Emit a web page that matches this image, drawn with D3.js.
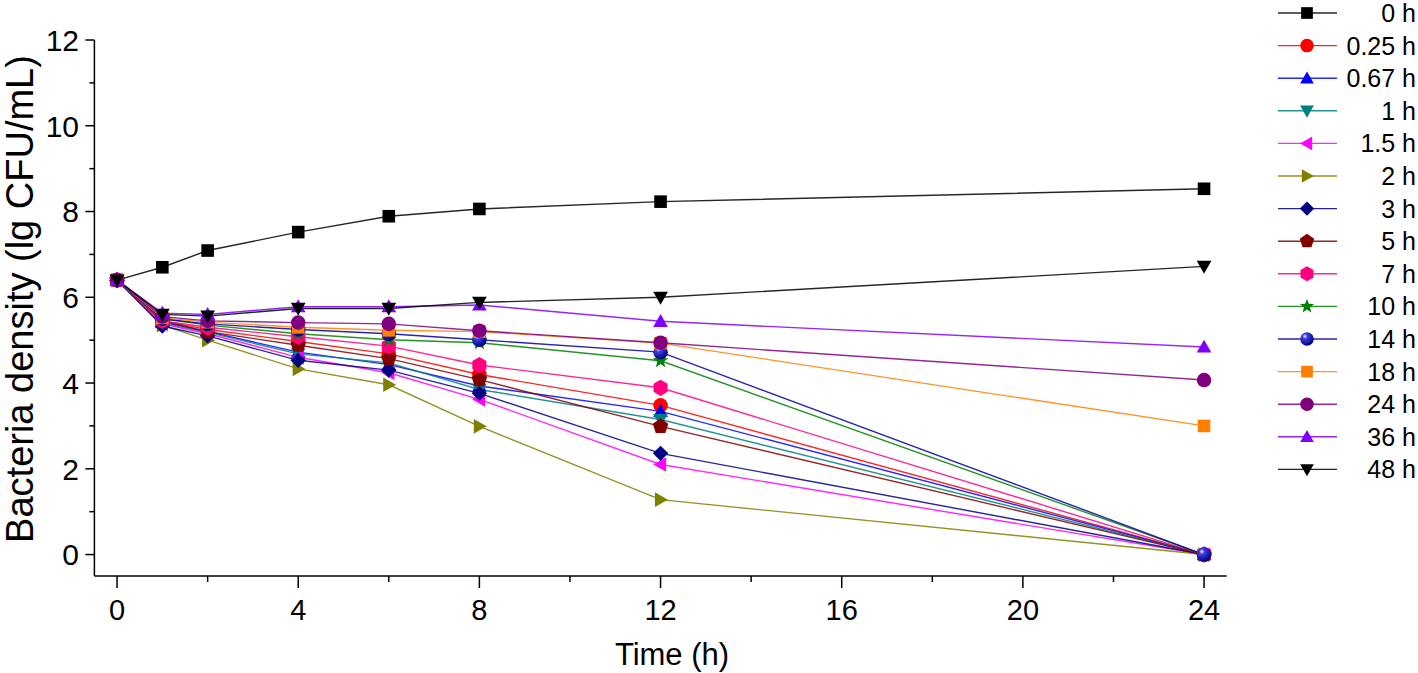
<!DOCTYPE html>
<html><head><meta charset="utf-8">
<script src="https://cdn.jsdelivr.net/npm/d3@7"></script>
<style>body{margin:0;background:#fff;} svg{display:block;} text{font-family:"Liberation Sans",Arial,sans-serif;}</style>
</head><body><svg id="c" width="1418" height="673"></svg>
<script>
const times = [0, 1, 2, 4, 6, 8, 12, 24];
const seriesNames = ["0 h","0.25 h","0.67 h","1 h","1.5 h","2 h","3 h","5 h","7 h","10 h","14 h","18 h","24 h","36 h","48 h"];
const seriesColors = ["#000000","#FF0000","#0000FF","#008080","#FF00FF","#808000","#000080","#800000","#FF0080","#008000","#0000A0","#FF8000","#800080","#8000FF","#000000"];
const seriesShapes = ["square","circle","triangleUp","triangleDown","triangleLeft","triangleRight","diamond","pentagon","hexagon","star","ball","square","circle","triangleUp","triangleDown"];
const v0h   = [6.40, 6.70, 7.09, 7.52, 7.89, 8.06, 8.23, 8.53];
const v025h = [6.40, 5.45, 5.25, 4.97, 4.68, 4.20, 3.48, 0];
const v067h = [6.40, 5.42, 5.20, 4.72, 4.43, 3.93, 3.34, 0];
const v1h   = [6.40, 5.40, 5.18, 4.68, 4.47, 3.85, 3.15, 0];
const v15h  = [6.40, 5.38, 5.15, 4.60, 4.24, 3.62, 2.10, 0];
const v2h   = [6.40, 5.35, 5.00, 4.33, 3.96, 2.99, 1.28, 0];
const v3h   = [6.40, 5.33, 5.10, 4.53, 4.30, 3.76, 2.36, 0];
const v5h   = [6.40, 5.45, 5.20, 4.88, 4.57, 4.08, 2.99, 0];
const v7h   = [6.40, 5.45, 5.30, 5.08, 4.86, 4.42, 3.89, 0];
const v10h  = [6.40, 5.50, 5.35, 5.15, 5.01, 4.94, 4.52, 0];
const v14h  = [6.40, 5.50, 5.38, 5.25, 5.15, 5.01, 4.72, 0];
const v18h  = [6.40, 5.52, 5.42, 5.30, 5.23, 5.20, 4.93, 3.00];
const v24h  = [6.40, 5.55, 5.45, 5.41, 5.38, 5.22, 4.94, 4.07];
const v36h  = [6.40, 5.63, 5.60, 5.78, 5.78, 5.82, 5.44, 4.84];
const v48h  = [6.40, 5.60, 5.56, 5.74, 5.74, 5.88, 6.00, 6.72];
const allValues = [v0h,v025h,v067h,v1h,v15h,v2h,v3h,v5h,v7h,v10h,v14h,v18h,v24h,v36h,v48h];
const xTicks = [0, 4, 8, 12, 16, 20, 24];
const xMinor = [2, 6, 10, 14, 18, 22];
const yTicks = [0, 2, 4, 6, 8, 10, 12];
const yMinor = [1, 3, 5, 7, 9, 11];

const svg = d3.select("#c");
const x = d3.scaleLinear().domain([-0.5, 24.5]).range([94.4, 1226.7]);
const y = d3.scaleLinear().domain([-0.5, 12]).range([576, 40]);

const defs = svg.append("defs");
const rg = defs.append("radialGradient").attr("id","ballg").attr("cx","35%").attr("cy","30%").attr("r","70%");
rg.append("stop").attr("offset","0%").attr("stop-color","#ffffff");
rg.append("stop").attr("offset","25%").attr("stop-color","#4040e0");
rg.append("stop").attr("offset","100%").attr("stop-color","#000080");

function shapePath(shape, s) {
  const pts = [];
  if (shape === "hexagon" || shape === "pentagon") {
    const n = shape === "hexagon" ? 6 : 5;
    const r = s * 0.58;
    for (let i = 0; i < n; i++) {
      const a = -Math.PI/2 + i * 2*Math.PI/n;
      pts.push([r*Math.cos(a), r*Math.sin(a)]);
    }
    return "M" + pts.map(p=>p.join(",")).join("L") + "Z";
  }
  const h = s/2;
  switch (shape) {
    case "square": return `M${-h*0.9},${-h*0.9}H${h*0.9}V${h*0.9}H${-h*0.9}Z`;
    case "triangleUp": return `M0,${-h*1.05}L${h*1.05},${h*0.8}L${-h*1.05},${h*0.8}Z`;
    case "triangleDown": return `M0,${h*1.05}L${h*1.05},${-h*0.8}L${-h*1.05},${-h*0.8}Z`;
    case "triangleLeft": return `M${-h*1.05},0L${h*0.8},${-h*1.05}L${h*0.8},${h*1.05}Z`;
    case "triangleRight": return `M${h*1.05},0L${-h*0.8},${-h*1.05}L${-h*0.8},${h*1.05}Z`;
    case "diamond": return `M0,${-h*1.1}L${h*1.1},0L0,${h*1.1}L${-h*1.1},0Z`;
    case "star": {
      const R = h*1.15, r = R*0.42;
      for (let i = 0; i < 10; i++) {
        const a = -Math.PI/2 + i*Math.PI/5; const rr = i%2===0?R:r;
        pts.push([rr*Math.cos(a), rr*Math.sin(a)]);
      }
      return "M" + pts.map(p=>p.join(",")).join("L") + "Z";
    }
  }
  return "";
}
function drawMarker(g, shape, color, cx, cy, s) {
  if (shape === "circle") {
    g.append("circle").attr("cx",cx).attr("cy",cy).attr("r",s*0.52).attr("fill",color);
  } else if (shape === "ball") {
    g.append("circle").attr("cx",cx).attr("cy",cy).attr("r",s*0.52).attr("fill","url(#ballg)");
  } else {
    g.append("path").attr("d", shapePath(shape, s)).attr("transform",`translate(${cx},${cy})`).attr("fill",color);
  }
}

// axes
const axisG = svg.append("g").attr("stroke","#000").attr("stroke-width",1.5);
axisG.append("line").attr("x1",x(-0.5)).attr("x2",x(-0.5)).attr("y1",y(12)).attr("y2",y(-0.5));
axisG.append("line").attr("x1",x(-0.5)).attr("x2",x(24.5)).attr("y1",y(-0.5)).attr("y2",y(-0.5));
yTicks.forEach(t => axisG.append("line").attr("x1",x(-0.5)-9).attr("x2",x(-0.5)).attr("y1",y(t)).attr("y2",y(t)));
yMinor.forEach(t => axisG.append("line").attr("x1",x(-0.5)-5).attr("x2",x(-0.5)).attr("y1",y(t)).attr("y2",y(t)));
xTicks.forEach(t => axisG.append("line").attr("x1",x(t)).attr("x2",x(t)).attr("y1",y(-0.5)).attr("y2",y(-0.5)+12));
xMinor.forEach(t => axisG.append("line").attr("x1",x(t)).attr("x2",x(t)).attr("y1",y(-0.5)).attr("y2",y(-0.5)+6));

svg.append("g").selectAll("text").data(yTicks).join("text")
  .attr("x", 79).attr("y", d=>y(d)).attr("dy","0.36em").attr("text-anchor","end")
  .attr("font-size",30).text(d=>d);
svg.append("g").selectAll("text").data(xTicks).join("text")
  .attr("x", d=>x(d)).attr("y", 620).attr("text-anchor","middle")
  .attr("font-size",29).text(d=>d);
svg.append("text").attr("transform",`translate(33,299) rotate(-90)`)
  .attr("text-anchor","middle").attr("font-size",38).text("Bacteria density (lg CFU/mL)");
svg.append("text").attr("x",672).attr("y",665).attr("text-anchor","middle").attr("font-size",31).text("Time (h)");

// series
const line = d3.line().x((d,i)=>x(times[i])).y(d=>y(d));
const plot = svg.append("g");
allValues.forEach((vals, k) => {
  plot.append("path").attr("d", line(vals)).attr("fill","none")
    .attr("stroke", seriesColors[k]).attr("stroke-width",1.4).attr("stroke-opacity",0.85);
});
allValues.forEach((vals, k) => {
  const g = plot.append("g");
  vals.forEach((v,i) => drawMarker(g, seriesShapes[k], seriesColors[k], x(times[i]), y(v), 14));
});

// legend
const leg = svg.append("g");
seriesNames.forEach((name, k) => {
  const yy = 13 + k*32.6;
  leg.append("line").attr("x1",1278).attr("x2",1337).attr("y1",yy).attr("y2",yy)
    .attr("stroke",seriesColors[k]).attr("stroke-width",1.4).attr("stroke-opacity",0.85);
  drawMarker(leg, seriesShapes[k], seriesColors[k], 1307, yy, 13);
  leg.append("text").attr("x",1416).attr("y",yy).attr("dy","0.36em").attr("text-anchor","end")
    .attr("font-size",25).text(name);
});
</script></body></html>
